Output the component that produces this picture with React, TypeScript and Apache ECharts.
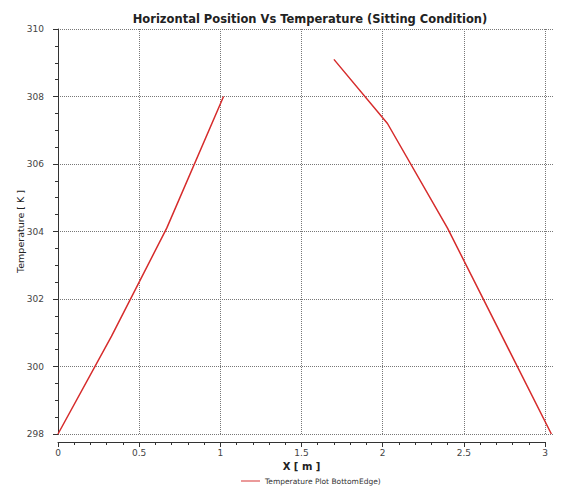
import React, { useEffect, useRef } from "react";
import * as echarts from "echarts";

// Bottom-edge temperature profile, two separate segments along X
const leftX = [0, 0.33, 0.67, 1.02];
const leftT = [298, 300.9, 304.1, 308.0];
const rightX = [1.7, 2.03, 2.4, 3.04];
const rightT = [309.1, 307.2, 304.1, 298.0];

const xTicks = [0, 0.5, 1, 1.5, 2, 2.5, 3];
const yTicks = [298, 300, 302, 304, 306, 308, 310];

const seriesName = "Temperature Plot BottomEdge)";
const titleText = "Horizontal Position Vs Temperature (Sitting Condition)";

const FONT = "DejaVu Sans";
const X_PAD = 0.05; // plotted range runs a little past the last labelled tick

export default function App() {
  const ref = useRef<HTMLDivElement>(null);

  useEffect(() => {
    if (!ref.current) return;
    const chart = echarts.init(ref.current, undefined, { renderer: "svg" });

    const pts = (xs: number[], ys: number[]) => xs.map((x, i) => [x, ys[i]]);
    // gap between the two segments
    const data = [...pts(leftX, leftT), [null, null], ...pts(rightX, rightT)];

    const gridLine = { show: true, lineStyle: { color: "#777", type: "dotted" as const, width: 1 } };
    const xMin = xTicks[0];
    const xMax = xTicks[xTicks.length - 1];

    chart.setOption({
      animation: false,
      backgroundColor: "#fff",
      title: {
        text: titleText,
        left: 305,
        top: 8,
        textAlign: "center",
        textStyle: { fontFamily: FONT, fontSize: 11.5, fontWeight: "bold", color: "#222" },
      },
      legend: {
        top: 472,
        left: 236,
        itemWidth: 19,
        itemHeight: 8,
        itemGap: 8,
        icon: "path://M0,4L20,4L20,5L0,5Z",
        textStyle: { fontFamily: FONT, fontSize: 7.5, color: "#333" },
        data: [seriesName],
      },
      grid: [
        // data grid: horizontal grid lines run to the padded right edge
        { left: 58, right: 8, top: 29, bottom: 53, containLabel: false },
        // axis grid: x axis line, ticks and vertical grid lines end at the last tick
        { left: 58, width: 487, top: 29, bottom: 53, containLabel: false },
      ],
      xAxis: [
        {
          gridIndex: 0,
          type: "value",
          min: xMin,
          max: xMax + X_PAD,
          show: false,
        },
        {
          gridIndex: 1,
          type: "value",
          min: xMin,
          max: xMax,
          interval: 0.5,
          offset: 8,
          name: "X [ m ]",
          nameLocation: "middle",
          nameGap: 19,
          nameMoveOverlap: false,
          nameTextStyle: { fontFamily: FONT, fontSize: 10, fontWeight: "bold", color: "#222" },
          axisLine: { show: true, lineStyle: { color: "#333" } },
          axisTick: { show: true, length: 5, lineStyle: { color: "#333" } },
          minorTick: { show: true, splitNumber: 5, length: 3, lineStyle: { color: "#333" } },
          axisLabel: { fontFamily: FONT, fontSize: 9, color: "#444", margin: 6 },
          splitLine: gridLine,
        },
      ],
      yAxis: [
        {
          gridIndex: 0,
          type: "value",
          min: yTicks[0],
          max: yTicks[yTicks.length - 1],
          interval: 2,
          offset: 5,
          name: "Temperature [ K ]",
          nameLocation: "middle",
          nameGap: 28,
          nameMoveOverlap: false,
          nameTextStyle: { fontFamily: FONT, fontSize: 9.5, color: "#222" },
          axisLine: { show: true, lineStyle: { color: "#333" } },
          axisTick: { show: true, length: 5, lineStyle: { color: "#333" } },
          minorTick: { show: true, splitNumber: 4, length: 3, lineStyle: { color: "#333" } },
          axisLabel: { fontFamily: FONT, fontSize: 9, color: "#444", margin: 9 },
          splitLine: gridLine,
        },
        {
          gridIndex: 1,
          type: "value",
          min: yTicks[0],
          max: yTicks[yTicks.length - 1],
          interval: 2,
          show: false,
        },
      ],
      series: [
        {
          name: seriesName,
          type: "line",
          xAxisIndex: 0,
          yAxisIndex: 0,
          data,
          showSymbol: false,
          connectNulls: false,
          lineStyle: { color: "#d62c2c", width: 1.5 },
          itemStyle: { color: "#d62c2c" },
        },
      ],
    });

    return () => chart.dispose();
  }, []);

  return <div ref={ref} style={{ width: 561, height: 487, position: "absolute", left: 0, top: 0 }} />;
}
